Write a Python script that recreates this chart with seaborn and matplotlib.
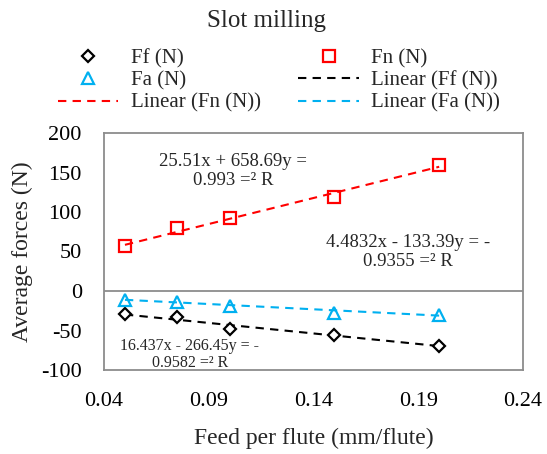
import numpy as np
import pandas as pd
import matplotlib
matplotlib.use("Agg")
import matplotlib.pyplot as plt
import seaborn as sns
from matplotlib.lines import Line2D

# ---- data ----
feed = [0.05, 0.075, 0.1, 0.15, 0.2]
ff = [-29, -33, -48, -56, -69]
fn = [57, 80, 92, 119, 160]
fa = [-12, -14, -19, -28, -30]

# trend line coefficients (slope, intercept) as shown in the chart
ff_fit = (-266.45, -16.437)
fn_fit = (658.69, 25.51)
fa_fit = (-133.39, -4.4832)

eq_ff = "16.437x - 266.45y = -\n0.9582 =² R"
eq_fn = "25.51x + 658.69y =\n0.993 =² R"
eq_fa = "4.4832x - 133.39y = -\n0.9355 =² R"

xticks = [0.04, 0.09, 0.14, 0.19, 0.24]
yticks = [-100, -50, 0, 50, 100, 150, 200]

sns.set_theme(style="white")
plt.rcParams["font.family"] = ["Liberation Serif", "DejaVu Serif"]

RED = "#FF0000"
BLUE = "#00B0F0"
BLACK = "#000000"
GREY = "#8C8C8C"

fig = plt.figure(figsize=(5.47, 4.54), dpi=100)
ax = fig.add_axes([104 / 547, 1 - 370 / 454, (523 - 104) / 547, (370 - 133) / 454])

df = pd.DataFrame({"feed": feed, "Ff": ff, "Fn": fn, "Fa": fa})

# trend lines
xs = np.array([min(feed), max(feed)])
for (m, b), col in [(ff_fit, BLACK), (fa_fit, BLUE), (fn_fit, RED)]:
    sns.lineplot(x=xs, y=m * xs + b, ax=ax, color=col, lw=1.5,
                 linestyle=(0, (4, 3)), zorder=2)

# markers
ax.plot(df["feed"], df["Ff"], linestyle="none", marker="D", markersize=6,
        markerfacecolor="white", markeredgecolor=BLACK, markeredgewidth=1.6, zorder=3)
ax.plot(df["feed"], df["Fn"], linestyle="none", marker="s", markersize=9,
        markerfacecolor="none", markeredgecolor=RED, markeredgewidth=1.6, zorder=3)
ax.plot(df["feed"], df["Fa"], linestyle="none", marker="^", markersize=9,
        markerfacecolor="none", markeredgecolor=BLUE, markeredgewidth=1.6, zorder=3)

ax.set_xlim(0.04, 0.24)
ax.set_ylim(-100, 200)
ax.set_xticks(xticks)
ax.set_xticklabels([f"{v:.2f}" for v in xticks])
ax.set_yticks(yticks)
ax.set_yticklabels([str(v) for v in yticks])
ax.tick_params(axis="both", length=0, labelsize=16, colors="black")
ax.tick_params(axis="y", pad=16)
ax.tick_params(axis="x", pad=16)
for s in ax.spines.values():
    s.set_color(GREY)
    s.set_linewidth(1.3)
ax.axhline(0, color=GREY, lw=1.3, zorder=1)

ax.set_xlabel("Feed per flute (mm/flute)", fontsize=17, labelpad=12)
ax.set_ylabel("Average forces (N)", fontsize=17, labelpad=6)

# equations
ax.text(0.1016, 152, eq_fn, ha="center", va="center", fontsize=13.5,
        multialignment="center", linespacing=1.15)
ax.text(0.185, 49, eq_fa, ha="center", va="center", fontsize=13.5,
        multialignment="center", linespacing=1.15)
ax.text(0.081, -80, eq_ff, ha="center", va="center", fontsize=11.5,
        multialignment="center", linespacing=1.1)

fig.text(0.487, 1 - 21 / 454, "Slot milling", ha="center", va="center", fontsize=18)

h_ff = Line2D([], [], linestyle="none", marker="D", markersize=6, markerfacecolor="white",
              markeredgecolor=BLACK, markeredgewidth=1.6)
h_fn = Line2D([], [], linestyle="none", marker="s", markersize=8, markerfacecolor="none",
              markeredgecolor=RED, markeredgewidth=1.6)
h_fa = Line2D([], [], linestyle="none", marker="^", markersize=8, markerfacecolor="none",
              markeredgecolor=BLUE, markeredgewidth=1.6)
l_ff = Line2D([], [], color=BLACK, lw=1.5, linestyle=(0, (4, 3)))
l_fn = Line2D([], [], color=RED, lw=1.5, linestyle=(0, (4, 3)))
l_fa = Line2D([], [], color=BLUE, lw=1.5, linestyle=(0, (4, 3)))

handles = [h_ff, h_fa, l_fn, h_fn, l_ff, l_fa]
labels = ["Ff (N)", "Fa (N)", "Linear (Fn (N))", "Fn (N)", "Linear (Ff (N))", "Linear (Fa (N))"]
fig.legend(handles, labels, ncol=2, loc="center", bbox_to_anchor=(279 / 547, 1 - 81 / 454),
           frameon=False, fontsize=15, handlelength=2.9, handletextpad=0.6,
           columnspacing=1.8, labelspacing=0.12)

fig.savefig("out.png", dpi=100)
